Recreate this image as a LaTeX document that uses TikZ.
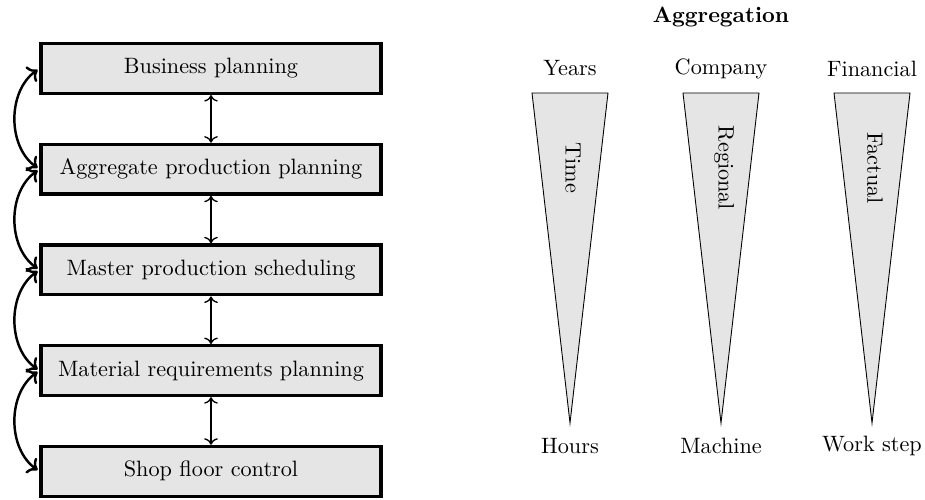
\documentclass[tikz,border=0pt]{standalone}
\usetikzlibrary{arrows.meta}
\begin{document}
\begin{tikzpicture}[x=0.45pt,y=-0.45pt,
  level/.style={draw,line width=1.5pt,fill=gray!20,minimum width=152.9pt,
    minimum height=22.4pt,inner sep=0pt,font=\normalsize},
  link/.style={<->,semithick},
  loop/.style={<->,line width=1.1pt,bend right=55,shorten <=1pt,shorten >=1pt},
  wedge/.style={draw,fill=gray!20},
  vlabel/.style={rotate=-90,inner sep=1pt}]
\useasboundingbox (0,0) rectangle (925,499);

% planning hierarchy
\node[level] (bp)  at (211,68.5)  {Business planning};
\node[level] (app) at (211,169.2) {Aggregate production planning};
\node[level] (mps) at (211,269.9) {Master production scheduling};
\node[level] (mrp) at (211,370.6) {Material requirements planning};
\node[level] (sfc) at (211,471.3) {Shop floor control};

\draw[link] (bp.south)  -- (app.north);
\draw[link] (app.south) -- (mps.north);
\draw[link] (mps.south) -- (mrp.north);
\draw[link] (mrp.south) -- (sfc.north);

\draw[loop] (bp.west)  to (app.west);
\draw[loop] (app.west) to (mps.west);
\draw[loop] (mps.west) to (mrp.west);
\draw[loop] (mrp.west) to (sfc.west);

% aggregation dimensions
\node[font=\bfseries] (agg) at (721,17) {Aggregation};

\foreach \cx/\top/\bot/\dim/\name in
  {570/Years/Hours/Time/t, 721/Company/Machine/Regional/r, 872/Financial/Work step/Factual/f}{
  \draw[wedge] (\cx-38,93) -- (\cx+38,93) -- (\cx,423) -- cycle;
  \node (top\name) at (\cx,68.5) {\top};
  \node (bot\name) at (\cx,446) {\bot};
  \node[vlabel] (dim\name) at (\cx+3,168) {\dim};
}
\end{tikzpicture}
\end{document}
